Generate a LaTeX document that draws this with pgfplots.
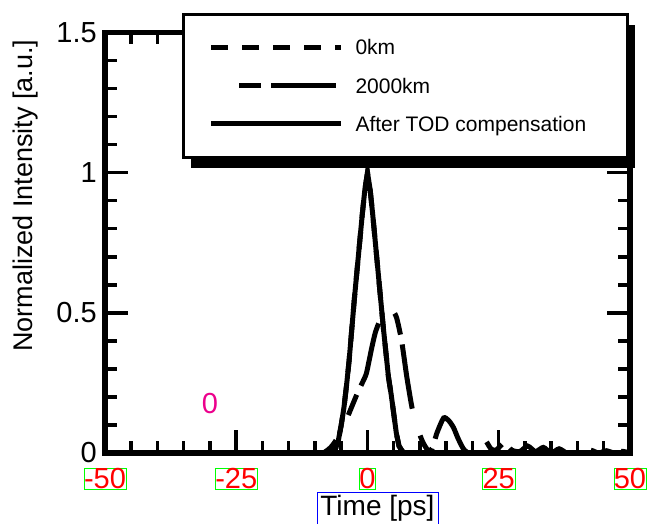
\documentclass[border=0pt]{standalone}
\usepackage{pgfplots}
\pgfplotsset{compat=1.18}
\usepackage{fontspec}
\setmainfont{Liberation Sans}
\usetikzlibrary{shadows}
\makeatletter
\tikzset{no preactions/.code={\let\tikz@preactions\pgfutil@empty}}
\makeatother

\pgfplotstableread{
x y
-50 0
-8 0
-7 0
-6.2 0.01
-5.6 0.04
-5 0.10
-4.5 0.16
-4 0.24
-3.5 0.33
-3 0.44
-2.5 0.55
-2 0.65
-1.5 0.75
-1 0.85
-0.5 0.94
0 1.0
0.5 0.94
1 0.85
1.5 0.75
2 0.65
2.5 0.55
3 0.45
3.5 0.36
4 0.27
4.5 0.21
5 0.14
5.5 0.07
6 0.025
6.5 0.01
7 0
8 0
50 0
}\comp

\pgfplotstableread{
x y
-50 0
-9 0
-8 0.005
-7 0.02
-6 0.045
-5 0.08
-4 0.12
-3 0.165
-2 0.21
-1 0.25
-0.2 0.285
0.75 0.37
1.5 0.43
2.5 0.48
3.5 0.515
4.5 0.515
5.5 0.485
6.5 0.40
7.5 0.27
8.5 0.16
9.5 0.09
10.5 0.04
11.5 0.01
12.3 0.015
13.2 0.07
14.5 0.125
15.5 0.115
16.4 0.09
17.3 0.05
18.5 0.01
19.6 0.035
21 0.06
22.3 0.05
23.5 0.015
24.5 0.01
26 0.035
27.5 0.01
29 0.005
30.5 0.025
32 0.005
33.5 0.02
35 0.0
36.5 0.015
38 0
39.5 0.012
41 0
42.5 0.01
44 0
45.5 0.008
47 0
48.5 0.006
50 0
}\twokkm

\begin{document}
\begin{tikzpicture}
\path[use as bounding box] (-105bp,-71bp) rectangle (551bp,453bp);
\begin{axis}[
  at={(0,0)}, anchor=south west,
  scale only axis,
  width=525bp, height=420.5bp,
  xmin=-50, xmax=50, ymin=0, ymax=1.5,
  xtick={-50,-25,0,25,50},
  xticklabels={-50,-25,0,25,50},
  ytick={0,0.5,1,1.5},
  yticklabels={0,0.5,1,1.5},
  minor x tick num=4,
  minor y tick num=4,
  tick align=inside,
  xtick pos=both, ytick pos=both,
  major tick length=23bp,
  minor tick length=12bp,
  every tick/.style={black, line width=3.5bp},
  axis line style={line width=5.5bp},
  tick label style={font=\fontsize{29bp}{34bp}\selectfont, inner sep=0pt},
  xticklabel style={yshift=-15bp, text=red, draw=green},
  yticklabel style={xshift=-8bp},
  xlabel={Time [ps]},
  ylabel={Normalized Intensity [a.u.]},
  every axis x label/.style={at={(axis description cs:0.519,-0.132)}, anchor=center, font=\fontsize{28bp}{33bp}\selectfont, draw=blue},
  every axis y label/.style={at={(axis description cs:-0.152,0.612)}, anchor=center, rotate=90, font=\fontsize{27bp}{32bp}\selectfont},
  legend style={
    at={(axis description cs:0.1467,1.046)}, anchor=north west,
    draw=black, line width=3bp, fill=white,
    drop shadow={shadow xshift=7bp, shadow yshift=-10bp, fill=black, opacity=1},
    inner xsep=25bp, inner ysep=25bp,
    row sep=21.5bp, column sep=12bp,
    font=\fontsize{21bp}{25bp}\selectfont,
    nodes={inner sep=0pt},
  },
  legend cell align=left,
  legend image code/.code={\draw[no preactions, #1] (0bp,1bp) -- (130bp,1bp);},
  after end axis/.code={\node[anchor=north, inner sep=0pt, yshift=60bp, text=magenta, font=\fontsize{29bp}{34bp}\selectfont] at (axis cs:-30,0) {0};},
]
\addplot[black, line width=5bp, dash pattern=on 17bp off 14bp] table[x=x,y=y]{\comp};
\addlegendentry{\makebox[247bp][l]{\rule[-5bp]{0pt}{20bp}0km}}
\addplot[black, line width=5bp, smooth, tension=0.4, dash pattern=on 22bp off 10bp on 65bp off 28bp, dash phase=97bp] table[x=x,y=y]{\twokkm};
\addlegendentry{\makebox[247bp][l]{\rule[-5bp]{0pt}{20bp}2000km}}
\addplot[black, line width=5bp] table[x=x,y=y]{\comp};
\addlegendentry{\makebox[247bp][l]{\rule[-5bp]{0pt}{20bp}After TOD compensation}}
\end{axis}
\end{tikzpicture}
\end{document}
